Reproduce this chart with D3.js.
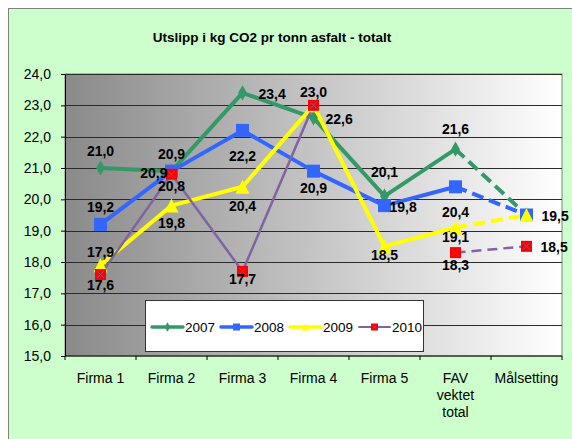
<!doctype html>
<html lang="no">
<head>
<meta charset="utf-8">
<title>Utslipp i kg CO2 pr tonn asfalt</title>
<style>
  body { margin: 0; background: #fff; }
  svg text { font-family: "Liberation Sans", Arial, Helvetica, sans-serif; }
</style>
</head>
<body>
<div id="vis"></div>
<script src="https://d3js.org/d3.v7.min.js"></script>
<script>
var categories = ['Firma 1', 'Firma 2', 'Firma 3', 'Firma 4', 'Firma 5', 'FAV|vektet|total', 'Målsetting'];
var years = ['2007', '2008', '2009', '2010'];
var s2007 = [21.0, 20.9, 23.4, 22.6, 20.1, 21.6, 19.5];
var s2008 = [19.2, 20.9, 22.2, 20.9, 19.8, 20.4, 19.5];
var s2009 = [17.9, 19.8, 20.4, 23.0, 18.5, 19.1, 19.5];
var s2010 = [17.6, 20.8, 17.7, 23.0, null, 18.3, 18.5];
var yTicks = [15, 16, 17, 18, 19, 20, 21, 22, 23, 24];

// label placement: side (t/b/l/r) + distance in px, '' = no label
var lab2007 = ['t12', 't12', 'r16', 'r12', 't19', 't15', ''];
var lab2008 = ['t12', 'l4', 'b31', 'b22', 'r5', 'b30', 'r15'];
var lab2009 = ['t8', 'b22', 'b24', '', 'b14', 'b14', ''];
var lab2010 = ['b15', 'b17', 'b13', 't8', '', 'b17', 'r14'];

var series = [
  {name: '2007', values: s2007, labels: lab2007, color: '#339966', width: 4, marker: 'diamond', msize: 11},
  {name: '2008', values: s2008, labels: lab2008, color: '#3366ff', width: 4, marker: 'square', msize: 13},
  {name: '2009', values: s2009, labels: lab2009, color: '#ffff00', width: 4, marker: 'triangle', msize: 14},
  {name: '2010', values: s2010, labels: lab2010, color: '#8064a2', width: 2.5, marker: 'red', msize: 11}
];

var W = 572, H = 439;
var svg = d3.select('#vis').append('svg').attr('width', W).attr('height', H);

svg.append('rect').attr('x', 8.5).attr('y', 8.5).attr('width', W + 10).attr('height', H + 10)
  .style('fill', '#ccffcc').style('stroke', '#808080');

svg.append('text').attr('x', 272).attr('y', 42).attr('text-anchor', 'middle')
  .style('font-size', '13.5px').style('font-weight', 'bold').text('Utslipp i kg CO2 pr tonn asfalt - totalt');

var pL = 65, pR = 562, pT = 74, pB = 356;
var x = d3.scaleBand().domain(categories).range([pL, pR]);
var y = d3.scaleLinear().domain([15, 24]).range([pB, pT]);

var grad = svg.append('defs').append('linearGradient').attr('id', 'bg');
grad.append('stop').attr('offset', '0%').attr('stop-color', '#8a8a8a');
grad.append('stop').attr('offset', '100%').attr('stop-color', '#ffffff');

svg.append('rect').attr('x', pL).attr('y', pT).attr('width', pR - pL).attr('height', pB - pT)
  .style('fill', 'url(#bg)').style('stroke', '#808080');

svg.append('g').selectAll('line').data(yTicks.slice(1)).join('line')
  .attr('x1', pL).attr('x2', pR)
  .attr('y1', function(d){ return Math.round(y(d)) + 0.5; })
  .attr('y2', function(d){ return Math.round(y(d)) + 0.5; })
  .style('stroke', '#2a2a2a').style('stroke-width', 1);

// axes
var yAxis = d3.axisLeft(y).tickValues(yTicks).tickSize(4).tickPadding(10)
  .tickFormat(function(d){ return d3.format('.1f')(d).replace('.', ','); });
var gy = svg.append('g').attr('transform', 'translate(' + pL + ',0)').call(yAxis);
gy.selectAll('text').style('font-size', '14px').style('fill', '#000');
gy.selectAll('line, path').style('stroke', '#000');

var gx = svg.append('g').attr('transform', 'translate(0,' + pB + ')');
gx.append('line').attr('x1', pL).attr('x2', pR).style('stroke', '#000');
gx.selectAll('.tk').data(d3.range(categories.length + 1)).join('line')
  .attr('x1', function(i){ return pL + i * x.bandwidth(); })
  .attr('x2', function(i){ return pL + i * x.bandwidth(); })
  .attr('y1', 0).attr('y2', 4).style('stroke', '#000');
gx.selectAll('text').data(categories).join('text')
  .attr('x', function(d){ return x(d) + x.bandwidth() / 2; })
  .attr('y', 27).attr('text-anchor', 'middle').style('font-size', '14px')
  .each(function(d){
    var t = d3.select(this);
    d.split('|').forEach(function(line, i){
      t.append('tspan').attr('x', x(d) + x.bandwidth() / 2).attr('dy', i ? 17 : 0).text(line);
    });
  });

function cx(i){ return x(categories[i]) + x.bandwidth() / 2; }

function drawMarker(g, type, size, px, py){
  var h = size / 2;
  if (type === 'diamond') {
    g.append('path').attr('d', d3.symbol(d3.symbolDiamond, size * size * 0.55)())
      .attr('transform', 'translate(' + px + ',' + py + ')').style('fill', '#339966');
  } else if (type === 'square') {
    g.append('rect').attr('x', px - h).attr('y', py - h).attr('width', size).attr('height', size)
      .style('fill', '#3366ff');
  } else if (type === 'triangle') {
    g.append('path').attr('d', 'M' + px + ',' + (py - h) + 'L' + (px + h) + ',' + (py + h) + 'L' + (px - h) + ',' + (py + h) + 'Z')
      .style('fill', '#ffff00');
  } else {
    g.append('rect').attr('x', px - h).attr('y', py - h).attr('width', size).attr('height', size)
      .style('fill', '#ff0000');
    g.append('path').attr('d', 'M' + (px - h + 2) + ',' + (py - h + 2) + 'L' + (px + h - 2) + ',' + (py + h - 2) +
      'M' + (px + h - 2) + ',' + (py - h + 2) + 'L' + (px - h + 2) + ',' + (py + h - 2))
      .style('stroke', '#8064a2').style('stroke-width', 1).style('opacity', 0.7);
  }
}

var line = d3.line().defined(function(d){ return d.v != null; })
  .x(function(d){ return cx(d.i); }).y(function(d){ return y(d.v); });

var plot = svg.append('g');
series.forEach(function(s){
  var pts = s.values.map(function(v, i){ return {v: v, i: i}; });
  var n = pts.length;
  plot.append('path').datum(pts.slice(0, n - 1)).attr('d', line)
    .style('fill', 'none').style('stroke', s.color).style('stroke-width', s.width).style('stroke-linejoin', 'round');
  plot.append('path').datum(pts.slice(n - 2)).attr('d', line)
    .style('fill', 'none').style('stroke', s.color).style('stroke-width', s.width)
    .style('stroke-dasharray', s.width > 3 ? '12,6' : '10,6');
});
series.forEach(function(s){
  var g = plot.append('g');
  s.values.forEach(function(v, i){
    if (v == null) return;
    drawMarker(g, s.marker, s.msize, cx(i), y(v));
  });
});

// data labels
var lg = svg.append('g').style('font-size', '14px').style('font-weight', 'bold');
series.forEach(function(s){
  s.values.forEach(function(v, i){
    var p = s.labels[i];
    if (v == null || !p) return;
    var side = p[0], dist = +p.slice(1);
    var px = cx(i), py = y(v), ax = 'middle', dx = 0, dy = 0;
    if (side === 't') { dy = -dist; }
    else if (side === 'b') { dy = dist; }
    else if (side === 'r') { ax = 'start'; dx = dist; dy = 6; }
    else if (side === 'l') { ax = 'end'; dx = -dist; dy = 7; }
    lg.append('text').attr('x', px + dx).attr('y', py + dy).attr('text-anchor', ax)
      .text(d3.format('.1f')(v).replace('.', ','));
  });
});

// legend
var leg = svg.append('g');
leg.append('rect').attr('x', 145.5).attr('y', 300.5).attr('width', 278).attr('height', 51)
  .style('fill', '#fff').style('stroke', '#333');
var legX = d3.scalePoint().domain(years).range([152, 359]);
series.forEach(function(s){
  var lx = legX(s.name), ly = 327;
  leg.append('line').attr('x1', lx).attr('x2', lx + 31).attr('y1', ly).attr('y2', ly)
    .style('stroke', s.color).style('stroke-width', s.width - 0.5).style('stroke-linecap', 'round');
  drawMarker(leg, s.marker, 7, lx + 15.5, ly);
  leg.append('text').attr('x', lx + 33).attr('y', ly + 5).style('font-size', '13.5px').text(s.name);
});
</script>
</body>
</html>
